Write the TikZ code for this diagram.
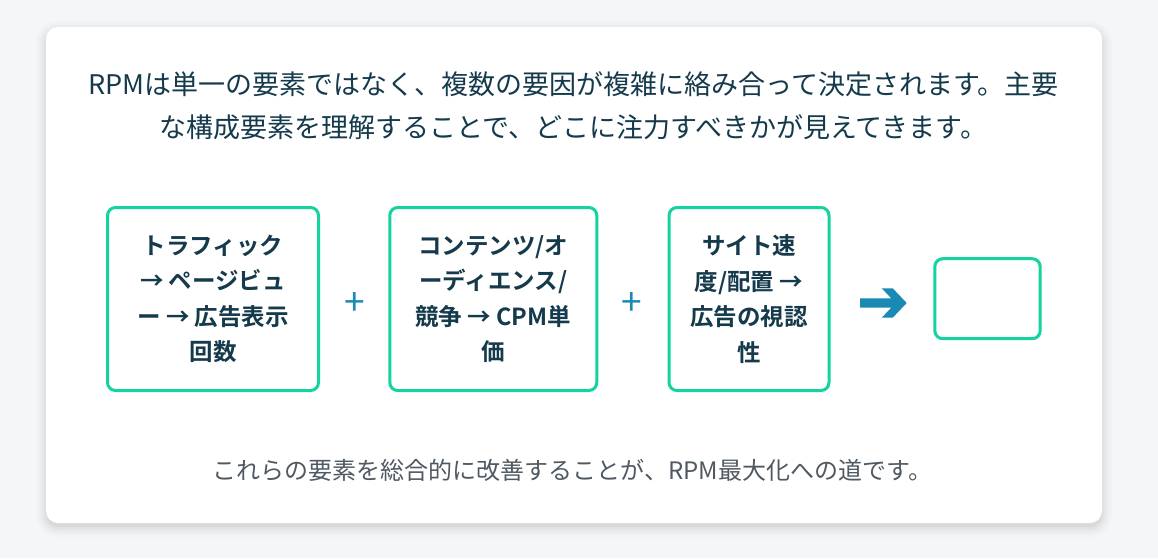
\documentclass[tikz,border=0pt]{standalone}
\usepackage{fontspec}
\usetikzlibrary{calc}
\newfontfamily\jp{Noto Sans CJK JP}[BoldFont={Noto Sans CJK JP Bold}]
\definecolor{pagebg}{HTML}{F5F6F8}
\definecolor{ink}{HTML}{143A4C}
\definecolor{muted}{HTML}{4F5961}
\definecolor{mint}{HTML}{14D3A0}
\definecolor{ocean}{HTML}{1A8AB4}
\tikzset{
  factor/.style={draw=mint, line width=3pt, rounded corners=8pt, fill=white, inner sep=0pt},
  factortext/.style={text=ink, align=center, font=\jp\bfseries\fontsize{23.5}{35.5}\selectfont, inner sep=0pt},
  opsign/.style={text=ocean, font=\jp\fontsize{37}{37}\selectfont, inner sep=0pt},
}
\begin{document}
\begin{tikzpicture}[x=1pt,y=-1pt]
\fill[pagebg] (0,0) rectangle (1158,558);
\useasboundingbox (0,0) rectangle (1158,558);
% card shadow
\foreach \d/\o in {10/0.01,8/0.012,6/0.015,4/0.02,2/0.025,0/0.03}{
  \fill[black, opacity=\o, rounded corners=12pt+\d pt] (46-\d,27-\d+4) rectangle (1102+\d,523+\d+4);
}
\fill[white, rounded corners=12pt] (46,27) rectangle (1102,523);
\node[text=ink, align=center, font=\jp\fontsize{27}{43}\selectfont, inner sep=0pt] (intro) at (573.5,105.5)
  {RPMは単一の要素ではなく、複数の要因が複雑に絡み合って決定されます。主要\\な構成要素を理解することで、どこに注力すべきかが見えてきます。};
\node[factor, minimum width=211pt, minimum height=183pt] (f1) at (213,299) {};
\node[factortext] (t1) at (f1.center) {トラフィック\\→ ページビュ\\ー → 広告表示\\回数};
\node[factor, minimum width=207pt, minimum height=183pt] (f2) at (493.3,299) {};
\node[factortext] (t2) at (f2.center) {コンテンツ/オ\\ーディエンス/\\競争 → CPM単\\価};
\node[factor, minimum width=160pt, minimum height=183pt] (f3) at (749,299) {};
\node[factortext] (t3) at (f3.center) {サイト速\\度/配置 →\\広告の視認\\性};
\node[factor, minimum width=105.4pt, minimum height=80pt] (res) at (987.5,298.7) {};
\node[opsign] (p1) at (354.3,304) {+};
\node[opsign] (p2) at (632,304) {+};
% heavy arrow between the factors and the result
\coordinate (arr) at (883,303);
\fill[ocean] ($(arr)+(-23,-4.7)$) -- ++(31.2,0) -- ++(-9.5,-10) -- ++(11,0) -- ($(arr)+(23.7,0)$)
  -- ($(arr)+(9.7,14.7)$) -- ++(-11,0) -- ++(9.5,-10) -- ($(arr)+(-23,4.7)$) -- cycle;
\node[text=muted, font=\jp\fontsize{24}{24}\selectfont, inner sep=0pt] (outro) at (572.5,470)
  {これらの要素を総合的に改善することが、RPM最大化への道です。};
\end{tikzpicture}
\end{document}
